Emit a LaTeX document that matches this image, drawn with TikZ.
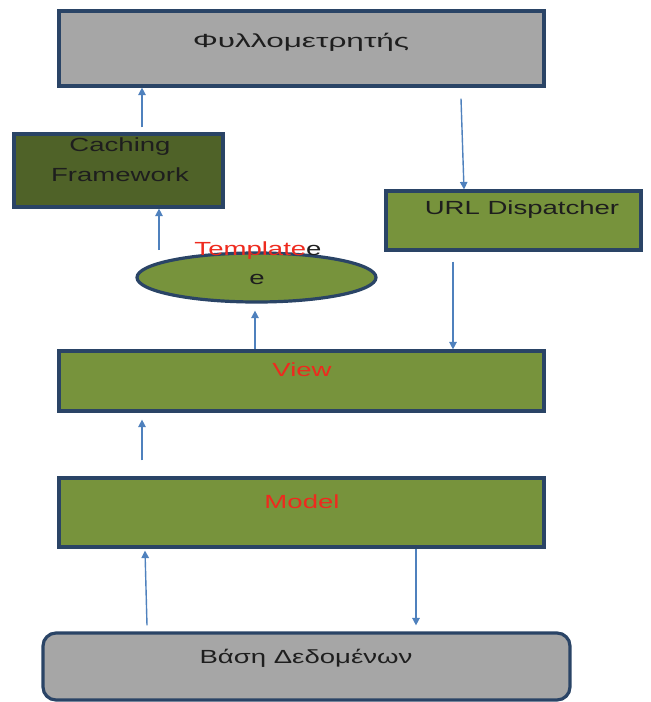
\documentclass[tikz,border=0pt]{standalone}
\usepackage{fontspec}
\setmainfont{Liberation Sans}
\usetikzlibrary{shapes.geometric,arrows.meta}
\definecolor{boxgray}{HTML}{A6A6A6}
\definecolor{darkolive}{HTML}{4F6228}
\definecolor{olive}{HTML}{77933C}
\definecolor{navy}{HTML}{2A4466}
\definecolor{arrowblue}{HTML}{4F81BD}
\definecolor{txtred}{HTML}{EE2A1E}
\definecolor{txtdark}{HTML}{1E1E1E}
\newcommand{\wide}[1]{\scalebox{1.45}[1]{#1}}
\newcommand{\wider}[1]{\scalebox{1.66}[1]{#1}}
\begin{document}
\begin{tikzpicture}[x=1pt,y=-1pt,
  box/.style={draw=navy, line width=3.2pt, inner sep=0pt},
  lbl/.style={font=\fontsize{19}{22}\selectfont, text=txtdark, inner sep=0pt},
  redlbl/.style={lbl, text=txtred},
  arr/.style={draw=arrowblue, line width=1.4pt, -{Triangle[length=7.5pt,width=7.5pt]}}]
\useasboundingbox (0,0) rectangle (651,702);
% boxes
\node[box, fill=boxgray, minimum width=485pt, minimum height=75pt] (browser) at (301.5,48.5) {};
\node[box, fill=darkolive, minimum width=209pt, minimum height=73pt] (caching) at (118.5,170.5) {};
\node[box, fill=olive, minimum width=255pt, minimum height=59pt] (url) at (513.5,220.5) {};
\node[box, fill=olive, ellipse, minimum width=239pt, minimum height=49pt] (tmpl) at (256.5,277.5) {};
\node[box, fill=olive, minimum width=485pt, minimum height=60pt] (view) at (301.5,381) {};
\node[box, fill=olive, minimum width=485pt, minimum height=69pt] (model) at (301.5,512.5) {};
\node[box, fill=boxgray, rounded corners=13pt, minimum width=527pt, minimum height=67pt] (db) at (306.5,666.5) {};
% texts
\node[lbl] (browsertxt) at (301,42) {\wider{Φυλλομετρητής}};
\node[lbl] (cachingtxt1) at (120,147) {\wide{Caching}};
\node[lbl] (cachingtxt2) at (120,175) {\wide{Framework}};
\node[lbl] (urltxt) at (522,210) {\wide{URL Dispatcher}};
\node[lbl] (tmpltxt1) at (258,251) {\wide{\textcolor{txtred}{Template}e}};
\node[lbl] (tmpltxt2) at (257,279) {\wide{e}};
\node[redlbl] (viewtxt) at (302,370) {\wide{View}};
\node[redlbl] (modeltxt) at (302,502) {\wide{Model}};
\node[lbl] (dbtxt) at (306,658) {\wide{Βάση Δεδομένων}};
% connectors
\draw[arr] ([xshift=23.5pt,yshift=5pt]caching.north) -- ([xshift=23.5pt]caching.north |- browser.south);
\draw[arr] ([xshift=159.5pt,yshift=-11pt]browser.south) -- ([xshift=-49.5pt]url.north);
\draw[arr] ([xshift=-97.5pt,yshift=27.5pt]tmpl.center) -- ([xshift=-97.5pt]tmpl.center |- caching.south);
\draw[arr] ([xshift=-46.5pt]view.north) -- ([xshift=-1.5pt,yshift=-7pt]tmpl.south);
\draw[arr] ([xshift=-60.5pt,yshift=-10pt]url.south) -- ([xshift=-60.5pt]url.south |- view.north);
\draw[arr] ([xshift=-159.5pt,yshift=16pt]model.north) -- ([xshift=-159.5pt,yshift=-7pt]view.south);
\draw[arr] ([xshift=-159.5pt,yshift=6pt]db.north) -- ([xshift=-156.5pt,yshift=-2pt]model.south);
\draw[arr] ([xshift=114.5pt]model.south) -- ([xshift=109.5pt,yshift=6pt]db.north);
\end{tikzpicture}
\end{document}
